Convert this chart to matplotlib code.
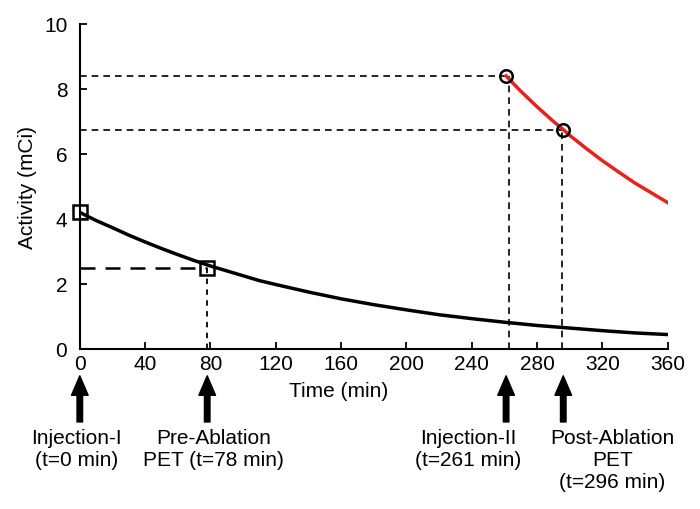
import matplotlib
matplotlib.use("Agg")
import matplotlib.pyplot as plt

plt.rcParams['font.family'] = ['Liberation Sans', 'DejaVu Sans']

# activity (mCi)
t_first = [0, 10, 20, 30, 40, 50, 60, 70, 80, 90, 100, 110, 120, 140, 160, 180, 200,
           220, 240, 260, 280, 300, 320, 340, 360]
a_first = [4.2, 3.95, 3.73, 3.5, 3.29, 3.09, 2.90, 2.72, 2.55, 2.4, 2.25, 2.1, 1.98,
           1.75, 1.54, 1.36, 1.20, 1.05, 0.93, 0.82, 0.72, 0.64, 0.56, 0.49, 0.44]
t_second = [261, 270, 280, 290, 296, 300, 310, 320, 330, 340, 350, 360]
a_second = [8.4, 7.93, 7.45, 7.0, 6.75, 6.57, 6.17, 5.79, 5.44, 5.1, 4.8, 4.5]

# scan points
sq_t = [0, 78]
sq_a = [4.2, 2.5]
circ_t = [261, 296]
circ_a = [8.4, 6.75]

event_t = [0, 78, 261, 296]
event_labels = ["Injection-I\n(t=0 min)", "Pre-Ablation\nPET (t=78 min)",
                "Injection-II\n(t=261 min)", "Post-Ablation\nPET\n(t=296 min)"]
# label centres are shifted a bit from the arrows
label_shift = [-2, 4, -23, 30]

fig = plt.figure(figsize=(7, 5.1), dpi=100)
ax = fig.add_axes([0.114, 0.314, 0.84, 0.637])

# guide lines
ax.plot([0, sq_t[1]], [sq_a[1], sq_a[1]], color='black', lw=1.8, dashes=(6, 4))
ax.plot([sq_t[1], sq_t[1]], [0, sq_a[1]], color='black', lw=1.3, dashes=(3, 3))
for tt, aa, dx in zip(circ_t, circ_a, [2, -1]):
    ax.plot([0, tt], [aa, aa], color='black', lw=1.2, dashes=(4, 3))
    ax.plot([tt + dx, tt + dx], [0, aa], color='black', lw=1.2, dashes=(4, 3))

ax.plot(t_first, a_first, color='black', lw=2.5)
ax.plot(t_second, a_second, color='#e8211b', lw=2.5)

ax.plot(sq_t, sq_a, 's', ms=9.5, mfc='none', mec='black', mew=1.8, clip_on=False)
ax.plot(circ_t, circ_a, 'o', ms=9, mfc='none', mec='black', mew=1.8, clip_on=False)

ax.set_xlim(0, 360)
ax.set_ylim(0, 10)
ax.set_xticks(range(0, 361, 40))
ax.set_yticks(range(0, 11, 2))
ax.tick_params(direction='in', length=5, width=1.3, labelsize=15)
ax.tick_params(axis='y', pad=9)
ax.tick_params(axis='x', pad=4)
for s in ['top', 'right']:
    ax.spines[s].set_visible(False)
for s in ['left', 'bottom']:
    ax.spines[s].set_linewidth(1.5)

ax.set_ylabel("Activity (mCi)", fontsize=15, labelpad=5)
ax.set_xlabel("Time (min)", fontsize=15)
ax.xaxis.set_label_coords(0.44, -0.1)

# event arrows and labels under the axis
for tt, lab, dx in zip(event_t, event_labels, label_shift):
    ax.annotate('', xy=(tt, -0.083), xytext=(tt, -0.225),
                xycoords=('data', 'axes fraction'),
                arrowprops=dict(width=4, headwidth=12, headlength=14, color='black'),
                annotation_clip=False)
    ax.text(tt + dx, -0.245, lab, transform=ax.get_xaxis_transform(),
            ha='center', va='top', fontsize=15, linespacing=1.2)

fig.savefig("out.png", dpi=100)
